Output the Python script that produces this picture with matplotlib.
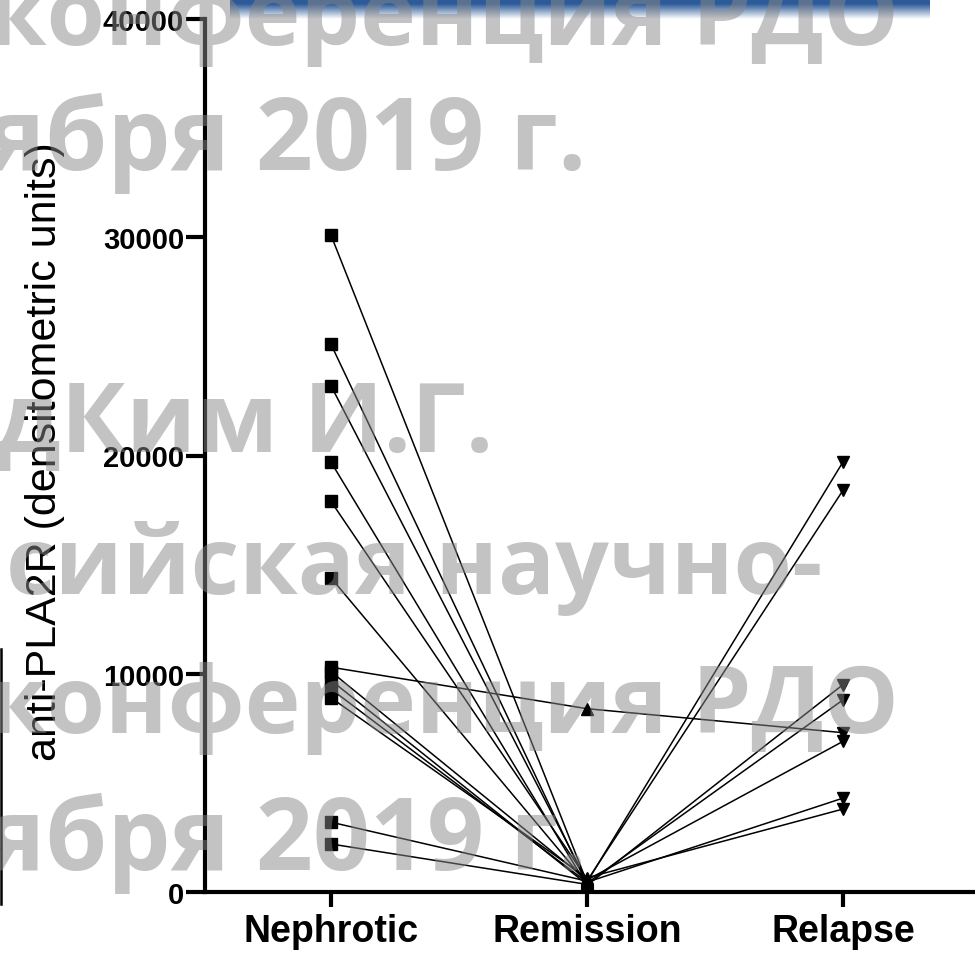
import numpy as np
import matplotlib
matplotlib.use("Agg")
import matplotlib.pyplot as plt

# phases on the x axis
phases = ["Nephrotic", "Remission", "Relapse"]

# anti-PLA2R per patient (NaN = no relapse sample)
nephrotic = [30100, 25100, 23200, 19700, 17900, 14400, 10300, 10100, 9700, 9300, 8900, 3200, 2200]
remission = [450, 350, 500, 300, 600, 400, 8400, 550, 350, 450, 650, 500, 350]
relapse = [19700, np.nan, 18400, 9500, np.nan, 8800, 7300, 6900, np.nan, 4300, 3800, np.nan, np.nan]

yticks = [0, 10000, 20000, 30000, 40000]

# watermark lines: text, x px, baseline px, size
watermark = [
    ("конференция РДО", -12, 45, 68),
    ("ября 2019 г.", -14, 170, 72),
    ("дКим И.Г.", -4, 452, 70),
    ("сийская научно-", 6, 594, 68),
    ("конференция РДО", -12, 733, 68),
    ("ября 2019 г.", -14, 870, 72),
]

W, H = 975, 954
fig = plt.figure(figsize=(W / 100, H / 100), dpi=100)
ax = fig.add_axes([205 / W, 1 - 893 / H, (W - 205) / W, (893 - 20) / H])

x = np.arange(len(phases))
for a, b, c in zip(nephrotic, remission, relapse):
    ax.plot(x, [a, b, c], color="black", lw=1.1, zorder=2)

ax.plot(np.zeros(len(nephrotic)), nephrotic, "s", color="black", ms=8.5, zorder=3)
ax.plot(np.ones(len(remission)), remission, "^", color="black", ms=8, zorder=3)
ax.plot(np.full(len(relapse), 2), relapse, "v", color="black", ms=9, zorder=3)

ax.set_xlim(-0.492, 2.516)
ax.set_ylim(0, 40000)
ax.set_xticks(x)
ax.set_xticklabels(phases, fontsize=27, fontweight="bold", family="Liberation Sans")
ax.set_yticks(yticks)
ax.set_yticklabels([str(v) for v in yticks], fontsize=21, fontweight="bold",
                   family="Liberation Sans")
ax.tick_params(axis="both", width=3, direction="out")
ax.tick_params(axis="x", length=11, pad=4)
ax.tick_params(axis="y", length=14, pad=1)
for side in ("top", "right"):
    ax.spines[side].set_visible(False)
for side in ("left", "bottom"):
    ax.spines[side].set_linewidth(3)
ax.patch.set_alpha(0)

fig.text(45 / W, 1 - 452 / H, "anti-PLA2R (densitometric units)", rotation=90,
         ha="center", va="center", fontsize=31, family="Liberation Sans")

# blue header strip at the top
bar = fig.add_axes([230 / W, 1 - 22 / H, 700 / W, 22 / H])
grad = np.ones((22, 1, 4))
grad[..., 0], grad[..., 1], grad[..., 2] = 0.18, 0.36, 0.60
alpha = np.clip(1.3 - np.linspace(0, 1, 22) * 1.4, 0, 1)
grad[:, 0, 3] = alpha
bar.imshow(grad, aspect="auto", extent=(0, 1, 0, 1))
bar.axis("off")

# thin black frame edge on the left
fig.add_artist(plt.Line2D([1 / W, 1 / W], [1 - 650 / H, 1 - 905 / H], color="black", lw=1.8))

# grey watermark over everything
for text, px, py, size in watermark:
    fig.text(px / W, 1 - py / H, text, fontsize=size, fontweight="bold", family="Open Sans",
             color="#888888", alpha=0.5, ha="left", va="baseline", zorder=10)

fig.savefig("out.png", dpi=100)
